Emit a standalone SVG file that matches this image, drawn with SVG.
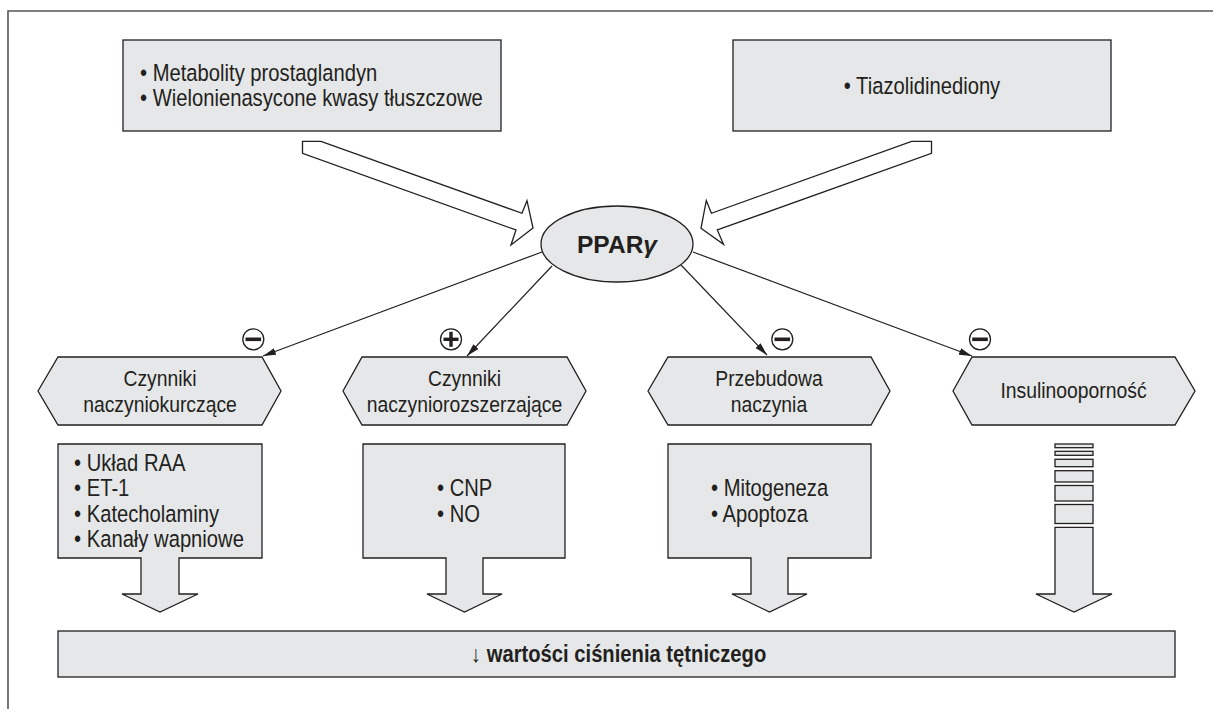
<svg xmlns="http://www.w3.org/2000/svg" width="1213" height="709" viewBox="0 0 1213 709">
<style>
.box{fill:#e6e7e8;stroke:#231f20;stroke-width:1.3}
.t{font-family:"Liberation Sans",Arial,sans-serif;font-size:23.5px;fill:#231f20}
.h{font-size:22.5px}
.b{font-weight:bold}
.m{text-anchor:middle}
.ln{stroke:#231f20;stroke-width:1.2;fill:none;marker-end:url(#ah)}
.hol{fill:#fff;stroke:#231f20;stroke-width:1.3;stroke-linejoin:miter}
.sg circle{fill:#fff;stroke:#231f20;stroke-width:1.3}
.sg rect{fill:#231f20}
</style>
<defs>
<marker id="ah" markerUnits="userSpaceOnUse" markerWidth="14" markerHeight="8" refX="13" refY="3.5" orient="auto">
<path d="M0,0 L13,3.5 L0,7 Z" fill="#231f20"/>
</marker>
</defs>
<rect width="1213" height="709" fill="#fff"/>
<path d="M8,709 V11 H1213" fill="none" stroke="#555" stroke-width="1.6"/>

<g id="src1">
<rect class="box" x="123" y="40" width="378" height="91"/>
<text class="t" transform="translate(140,81) scale(0.86,1)">• Metabolity prostaglandyn</text>
<text class="t" transform="translate(140,106) scale(0.86,1)">• Wielonienasycone kwasy tłuszczowe</text>
</g>
<g id="src2">
<rect class="box" x="733" y="40" width="378" height="91"/>
<text class="t m" transform="translate(922,94) scale(0.86,1)">• Tiazolidinediony</text>
</g>

<g id="ppar">
<ellipse class="box" cx="617" cy="244" rx="76" ry="38"/>
<text class="t b" x="617" y="253" text-anchor="middle" font-size="29" textLength="80" lengthAdjust="spacingAndGlyphs">PPAR<tspan font-style="italic">γ</tspan></text>
</g>

<g id="hex1">
<polygon class="box" points="38,391 58,357 262,357 281,391 262,425 58,425"/>
<text class="t h m" transform="translate(160,386) scale(0.86,1)">Czynniki</text>
<text class="t h m" transform="translate(160,412) scale(0.86,1)">naczyniokurczące</text>
</g>
<g id="hex2">
<polygon class="box" points="343,391 362,357 567,357 586,391 567,425 362,425"/>
<text class="t h m" transform="translate(464.5,386) scale(0.86,1)">Czynniki</text>
<text class="t h m" transform="translate(464.5,412) scale(0.86,1)">naczyniorozszerzające</text>
</g>
<g id="hex3">
<polygon class="box" points="648,391 668,357 871,357 890,391 871,425 668,425"/>
<text class="t h m" transform="translate(769,386) scale(0.86,1)">Przebudowa</text>
<text class="t h m" transform="translate(769,412) scale(0.86,1)">naczynia</text>
</g>
<g id="hex4">
<polygon class="box" points="953,391 972,357 1175,357 1195,391 1175,425 972,425"/>
<text class="t h m" transform="translate(1073.5,398) scale(0.86,1)">Insulinooporność</text>
</g>

<g id="box1">
<path class="box" d="M58,444 H262 V558 H179 V594 H198 L160,612 L122,594 H141 V558 H58 Z"/>
<text class="t" transform="translate(74,471) scale(0.86,1)">• Układ RAA</text>
<text class="t" transform="translate(74,496) scale(0.86,1)">• ET-1</text>
<text class="t" transform="translate(74,521.5) scale(0.86,1)">• Katecholaminy</text>
<text class="t" transform="translate(74,546.5) scale(0.86,1)">• Kanały wapniowe</text>
</g>
<g id="box2">
<path class="box" d="M363,444 H565 V558 H483 V594 H502 L464.5,612 L427,594 H446 V558 H363 Z"/>
<text class="t" transform="translate(437,496) scale(0.86,1)">• CNP</text>
<text class="t" transform="translate(437,521.5) scale(0.86,1)">• NO</text>
</g>
<g id="box3">
<path class="box" d="M668,444 H871 V558 H788 V594 H807 L769.5,612 L732,594 H751 V558 H668 Z"/>
<text class="t" transform="translate(711,496) scale(0.86,1)">• Mitogeneza</text>
<text class="t" transform="translate(711,521.5) scale(0.86,1)">• Apoptoza</text>
</g>
<g id="arrow4">
<rect class="box" x="1055" y="444" width="38" height="3.7"/>
<rect class="box" x="1055" y="451.3" width="38" height="4"/>
<rect class="box" x="1055" y="459.3" width="38" height="7.4"/>
<rect class="box" x="1055" y="470.7" width="38" height="11.3"/>
<rect class="box" x="1055" y="485.5" width="38" height="15.5"/>
<rect class="box" x="1055" y="504.5" width="38" height="19"/>
<path class="box" d="M1055,527.3 H1093 V594 H1112 L1074,612 L1036,594 H1055 Z"/>
</g>

<g id="result">
<rect class="box" x="58" y="631" width="1117" height="46"/>
<text class="t" transform="translate(471,662) scale(0.86,1)"><tspan>↓ </tspan><tspan class="b">wartości ciśnienia tętniczego</tspan></text>
</g>

<g id="connectors">
<polygon class="hol" points="302.5,141.3 321,141.3 522,213.3 527,200.7 533,228 511,245 516,230 302.5,153.3"/>
<polygon class="hol" points="911.6,141.3 931.5,141.3 931.5,153.3 717.3,230 723.5,244.3 701,228.3 706.3,200.5 711.4,213.3"/>
<line class="ln" x1="542" y1="252" x2="263" y2="356"/>
<line class="ln" x1="552" y1="266" x2="467" y2="356"/>
<line class="ln" x1="681" y1="265" x2="767" y2="355"/>
<line class="ln" x1="693" y1="252" x2="972" y2="356"/>
</g>

<g id="signs" class="sg">
<g><circle cx="253.3" cy="339.3" r="10.5"/><rect x="245.5" y="337.5" width="15.6" height="3.6"/></g>
<g><circle cx="451" cy="339.3" r="10.5"/><rect x="443.5" y="337.6" width="15" height="3.4"/><rect x="449.3" y="331.8" width="3.4" height="15"/></g>
<g><circle cx="782.3" cy="339.3" r="10.5"/><rect x="774.5" y="337.5" width="15.6" height="3.6"/></g>
<g><circle cx="980" cy="339.3" r="10.5"/><rect x="972.2" y="337.5" width="15.6" height="3.6"/></g>
</g>
</svg>
